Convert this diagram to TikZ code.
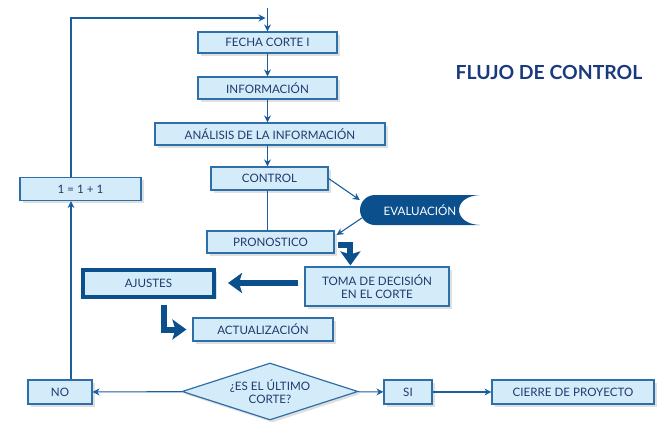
\documentclass[tikz,border=0pt]{standalone}
\usepackage{fontspec}
\setmainfont{Lato}
\usepackage{tikz}
\usetikzlibrary{arrows.meta, calc, shapes.geometric, shadows}
\definecolor{boxfill}{HTML}{D4ECFA}
\definecolor{boxline}{HTML}{2F6FA8}
\definecolor{boxtext}{HTML}{1F3A6D}
\definecolor{linkblue}{HTML}{1B5E9E}
\definecolor{darkblue}{HTML}{0C4F8D}
\definecolor{titleblue}{HTML}{1A3A7E}

\begin{document}
\begin{tikzpicture}[x=1pt, y=-1pt,
    caja/.style={draw=boxline, line width=1.2pt, fill=boxfill, text=boxtext,
        inner sep=0pt, align=center, font=\fontsize{11.6}{13.5}\selectfont,
        drop shadow={shadow xshift=2.5pt, shadow yshift=-2.5pt, fill=black!25}},
    conn/.style={draw=linkblue, line width=1.1pt, -{Stealth[length=7pt,width=7pt]}},
    bigarrow/.style={draw=darkblue, line width=6pt, -{Stealth[length=14pt,width=20pt,inset=3pt]}}]
    \useasboundingbox (0,0) rectangle (665,432);
    % cajas del ciclo
    \node[caja, minimum width=139pt, minimum height=21pt] (fecha) at (267.5,42.5) {FECHA CORTE I};
    \node[caja, minimum width=139pt, minimum height=22pt] (info) at (267.5,88) {INFORMACIÓN};
    \node[caja, minimum width=230pt, minimum height=22pt] (anal) at (270,134) {ANÁLISIS DE LA INFORMACIÓN};
    \node[caja, minimum width=117pt, minimum height=23pt] (control) at (269.5,178.5) {CONTROL};
    \node[caja, minimum width=127pt, minimum height=22pt] (pronos) at (270.5,242) {PRONOSTICO};
    \node[caja, minimum width=144pt, minimum height=39pt] (toma) at (377,286.5) {TOMA DE DECISIÓN\\EN EL CORTE};
    \node[caja, draw=darkblue, line width=4pt, minimum width=131pt, minimum height=27pt] (ajustes) at (148.5,283) {AJUSTES};
    \node[caja, minimum width=140pt, minimum height=23pt] (actual) at (263,329.5) {ACTUALIZACIÓN};
    \node[caja, minimum width=121pt, minimum height=23pt] (cont) at (80.5,189) {1 = 1 + 1};
    % evaluacion
    \fill[darkblue] (375,195) -- (480,195) .. controls (452,196) and (452,224) .. (480,225) -- (375,225)
        .. controls (366.7,225) and (360,218.3) .. (360,210) .. controls (360,201.7) and (366.7,195) .. (375,195);
    \node[text=white, font=\fontsize{11.6}{13.5}\selectfont, minimum width=120pt, minimum height=30pt, inner sep=0pt] (eval) at (420,210) {EVALUACIÓN};
    % decision final
    \node[caja, diamond, aspect=3, minimum width=176pt, minimum height=57pt] (cond) at (270,391.5) {¿ES EL ÚLTIMO\\CORTE?};
    \node[caja, minimum width=64pt, minimum height=24pt] (no) at (60,392) {NO};
    \node[caja, minimum width=48pt, minimum height=24pt] (si) at (408,392) {SI};
    \node[caja, minimum width=162pt, minimum height=24pt] (cierre) at (573,392) {CIERRE DE PROYECTO};
    \node[text=titleblue, font=\fontsize{19.4}{22}\selectfont\bfseries] (titulo) at (549,72) {FLUJO DE CONTROL};
    % conectores
    \coordinate (top) at (267.5,8);
    \coordinate (corner) at (71,18);
    \draw[conn] (top) -- (fecha.north);
    \draw[conn] (fecha) -- (info);
    \draw[conn] (anal.south -| fecha) -- (control.north -| fecha);
    \draw[conn] (info) -- (anal.north -| info);
    \draw[linkblue, line width=1.1pt] (control.south -| fecha) -- (pronos.north -| fecha);
    \draw[conn] (control.east) -- ($(eval.west)+(0,-10)$);
    \draw[conn] ($(eval.west)+(2,8)$) -- ($(pronos.east)+(2,-7)$);
    \draw[bigarrow] ($(pronos.east)+(3,3)$) -| ($(toma.north west)+(46,-1)$);
    \draw[bigarrow, shorten <=6pt, shorten >=12pt] (toma.west |- ajustes.east) -- (ajustes.east);
    \draw[bigarrow] ($(ajustes.south)+(15,6)$) |- ($(actual.west)+(-6,0)$);
    \draw[conn] (cond) -- (no);
    \draw[conn] (cond) -- (si);
    \draw[conn] (si) -- (cierre);
    \draw[conn] (no.north -| corner) -- (cont.south -| corner);
    \draw[conn, shorten >=2pt] (cont.north -| corner) -- (corner) -- (top |- corner);
\end{tikzpicture}
\end{document}
